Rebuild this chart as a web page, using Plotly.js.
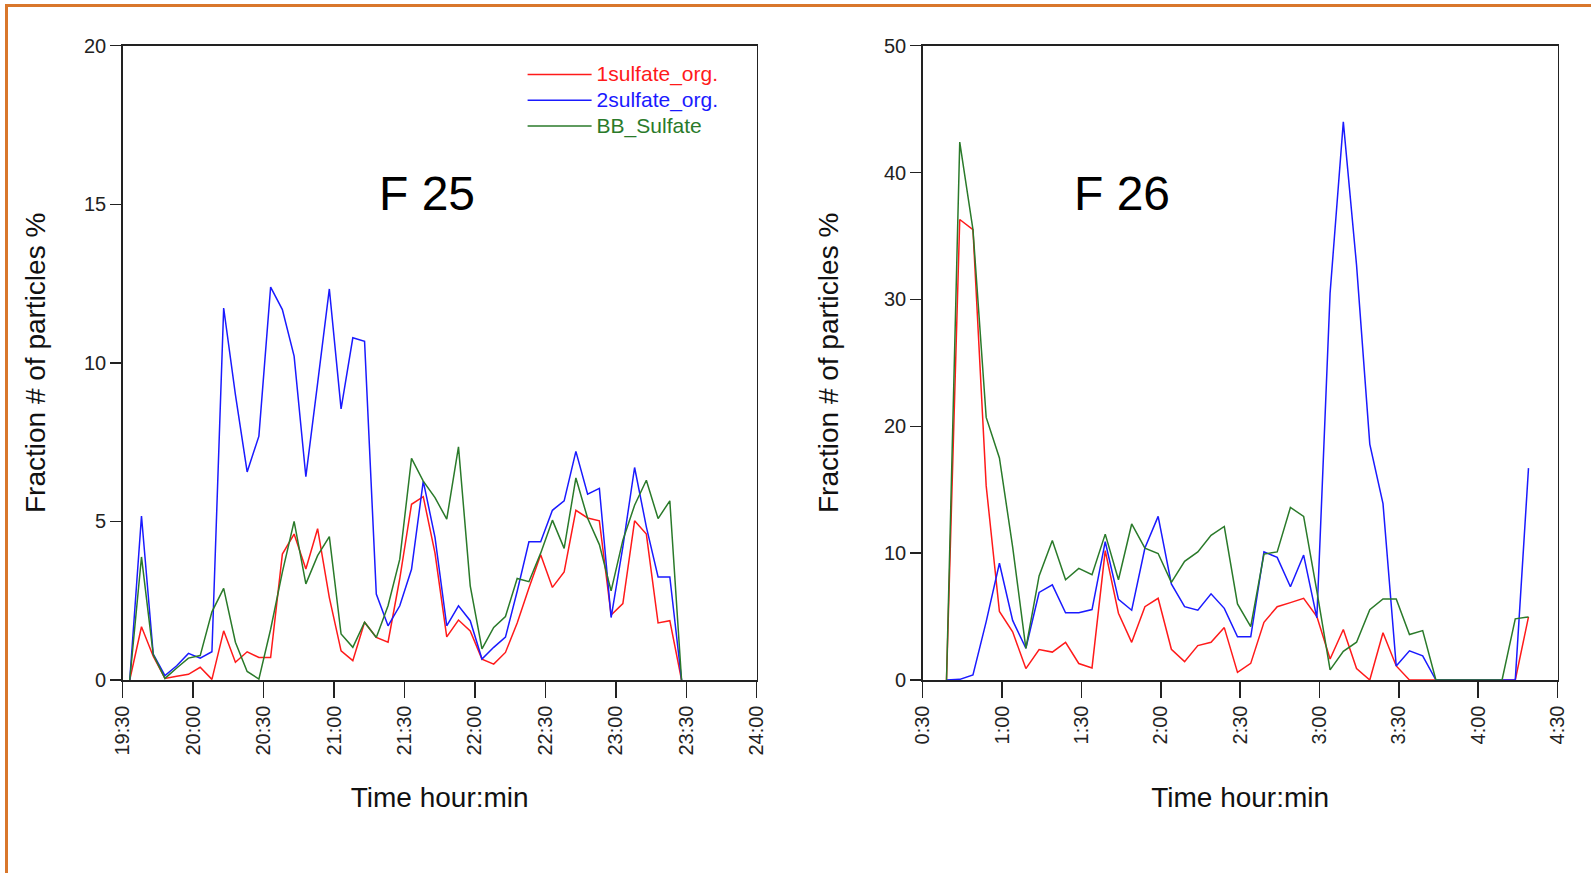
<!DOCTYPE html>
<html>
<head>
<meta charset="utf-8">
<script src="https://cdn.plot.ly/plotly-3.0.1.min.js"></script>
<style>
  html, body { margin: 0; padding: 0; background: #ffffff; }
  #chart { width: 1591px; height: 873px; }
</style>
</head>
<body>
<div id="chart"></div>
<script>
// ---------- DATA ----------
const seriesNames = ["1sulfate_org.", "2sulfate_org.", "BB_Sulfate"];
const panelLabels = ["F 25", "F 26"];

// F 25 (evening) sample times
const timesF25 = ["19:33","19:38","19:43","19:48","19:53","19:58","20:03","20:08","20:13","20:18",
  "20:23","20:28","20:33","20:38","20:43","20:48","20:53","20:58","21:03","21:08",
  "21:13","21:18","21:23","21:28","21:33","21:38","21:43","21:48","21:53","21:58",
  "22:03","22:08","22:13","22:18","22:23","22:28","22:33","22:38","22:43","22:48",
  "22:53","22:58","23:03","23:08","23:13","23:18","23:23","23:28"];
const sulfate1F25 = [0,1.68,0.75,0.05,0.12,0.18,0.4,0.02,1.55,0.56,
  0.89,0.71,0.71,3.97,4.6,3.5,4.77,2.6,0.92,0.61,
  1.82,1.34,1.19,3.2,5.54,5.78,4.0,1.36,1.89,1.55,
  0.66,0.5,0.87,1.8,2.9,3.95,2.92,3.41,5.35,5.11,
  5.02,2.05,2.41,5.02,4.6,1.8,1.87,0];
const sulfate2F25 = [0,5.17,0.82,0.14,0.45,0.84,0.69,0.89,11.73,9.0,
  6.56,7.69,12.39,11.68,10.21,6.41,9.35,12.33,8.55,10.79,
  10.68,2.71,1.71,2.34,3.49,6.27,4.5,1.71,2.34,1.87,
  0.66,1.03,1.35,2.8,4.36,4.36,5.35,5.65,7.21,5.86,
  6.04,1.97,4.2,6.7,4.83,3.25,3.25,0];
const bbSulfateF25 = [0,3.88,0.8,0.05,0.38,0.69,0.77,2.15,2.89,1.19,
  0.27,0.03,1.6,3.4,5.0,3.03,3.92,4.52,1.45,1.03,
  1.82,1.34,2.34,3.81,6.99,6.27,5.75,5.07,7.35,2.97,
  0.98,1.66,2.0,3.2,3.1,4.0,5.04,4.15,6.37,5.1,
  4.27,2.81,4.41,5.51,6.3,5.09,5.65,0];

// F 26 (after midnight) sample times
const timesF26 = ["0:39","0:44","0:49","0:54","0:59","1:04","1:09","1:14","1:19","1:24",
  "1:29","1:34","1:39","1:44","1:49","1:54","1:59","2:04","2:09","2:14",
  "2:19","2:24","2:29","2:34","2:39","2:44","2:49","2:54","2:59","3:04",
  "3:09","3:14","3:19","3:24","3:29","3:34","3:39","3:44","3:49","3:54",
  "3:59","4:04","4:09","4:14","4:19"];
const sulfate1F26 = [0,36.3,35.5,15.3,5.4,3.8,0.9,2.4,2.2,2.96,
  1.3,0.95,10.2,5.26,2.97,5.78,6.44,2.42,1.45,2.71,
  2.97,4.13,0.6,1.31,4.55,5.78,6.1,6.44,5.0,1.66,
  3.98,0.9,0,3.73,1.11,0,0,0,0,0,
  0,0,0,0,4.97];
const sulfate2F26 = [0,0.05,0.4,4.6,9.2,4.7,2.5,6.9,7.5,5.3,
  5.3,5.55,10.9,6.36,5.5,10.4,12.9,7.57,5.78,5.5,
  6.79,5.65,3.4,3.4,10.1,9.67,7.35,9.85,4.9,30.5,
  44.0,32.7,18.6,13.9,1.1,2.3,1.9,0,0,0,
  0,0,0,0,16.7];
const bbSulfateF26 = [0,42.4,35.5,20.7,17.5,10.5,2.5,8.2,11.0,7.9,
  8.8,8.3,11.5,7.9,12.3,10.4,9.97,7.7,9.35,10.1,
  11.4,12.1,6.0,4.2,9.93,10.1,13.6,12.9,7.0,0.8,
  2.26,2.98,5.54,6.39,6.39,3.58,3.89,0,0,0,
  0,0,0,4.82,4.97];

const tickTextF25 = ["19:30","20:00","20:30","21:00","21:30","22:00","22:30","23:00","23:30","24:00"];
const tickTextF26 = ["0:30","1:00","1:30","2:00","2:30","3:00","3:30","4:00","4:30"];

// ---------- STYLE ----------
const colors = ["#ff1a1a", "#1a1aff", "#2a7a2a"];
const FONT = "Liberation Sans, Arial, Helvetica, sans-serif";
const W = 1591, H = 873;

function toMin(s) { const p = s.split(":").map(Number); return p[0] * 60 + p[1]; }

const f25x = timesF25.map(toMin);
const f26x = timesF26.map(toMin);
const f25Series = [sulfate1F25, sulfate2F25, bbSulfateF25];
const f26Series = [sulfate1F26, sulfate2F26, bbSulfateF26];

const traces = [];
f25Series.forEach((ys, i) => {
  traces.push({
    type: "scatter", mode: "lines", x: f25x, y: ys,
    xaxis: "x", yaxis: "y",
    name: '<span style="color:' + colors[i] + ';font-size:21px">' + seriesNames[i] + '</span>',
    legendgroup: seriesNames[i],
    line: { color: colors[i], width: 1.5 },
    showlegend: true
  });
});
f26Series.forEach((ys, i) => {
  traces.push({
    type: "scatter", mode: "lines", x: f26x, y: ys,
    xaxis: "x2", yaxis: "y2",
    name: seriesNames[i],
    legendgroup: seriesNames[i],
    line: { color: colors[i], width: 1.5 },
    showlegend: false
  });
});

function px(x) { return x / W; }
function py(y) { return 1 - y / H; }

const axisCommon = {
  showline: true, linecolor: "#222", linewidth: 1.5, mirror: true,
  showgrid: false, zeroline: false,
  ticks: "outside", tickcolor: "#222", tickwidth: 1.5,
  tickfont: { family: FONT, size: 20, color: "#222" },
  automargin: false, fixedrange: true
};
const titleFont = { family: FONT, size: 28, color: "#111" };

const layout = {
  width: W, height: H,
  margin: { l: 0, r: 0, t: 0, b: 0, pad: 0 },
  paper_bgcolor: "#ffffff", plot_bgcolor: "#ffffff",
  font: { family: FONT, color: "#111" },
  showlegend: true,
  legend: {
    x: px(522.6), y: py(56.5), xanchor: "left", yanchor: "top",
    bgcolor: "rgba(0,0,0,0)", borderwidth: 0,
    font: { family: FONT, size: 17.5 },
    itemwidth: 64, tracegroupgap: 0
  },
  xaxis: Object.assign({}, axisCommon, {
    domain: [px(122.7), px(756.7)], anchor: "y",
    range: [toMin("19:30"), toMin("24:00")],
    tickmode: "array", tickvals: tickTextF25.map(toMin), ticktext: tickTextF25,
    tickangle: -90, ticklen: 16,
    title: { text: "Time hour:min", font: titleFont, standoff: 33 }
  }),
  yaxis: Object.assign({}, axisCommon, {
    domain: [py(680), py(45.7)], anchor: "x",
    range: [0, 20], tickmode: "linear", tick0: 0, dtick: 5, ticklen: 11,
    title: { text: "Fraction # of particles %", font: titleFont, standoff: 30 }
  }),
  xaxis2: Object.assign({}, axisCommon, {
    domain: [px(922.7), px(1557.6)], anchor: "y2",
    range: [toMin("0:30"), toMin("4:30")],
    tickmode: "array", tickvals: tickTextF26.map(toMin), ticktext: tickTextF26,
    tickangle: -90, ticklen: 16,
    title: { text: "Time hour:min", font: titleFont, standoff: 44 }
  }),
  yaxis2: Object.assign({}, axisCommon, {
    domain: [py(680), py(45.7)], anchor: "x2",
    range: [0, 50], tickmode: "linear", tick0: 0, dtick: 10, ticklen: 11,
    title: { text: "Fraction # of particles %", font: titleFont, standoff: 37 }
  }),
  annotations: [
    { text: panelLabels[0], xref: "paper", yref: "paper", x: px(427), y: py(193),
      xanchor: "center", yanchor: "middle", showarrow: false,
      font: { family: FONT, size: 48, color: "#000" } },
    { text: panelLabels[1], xref: "paper", yref: "paper", x: px(1122), y: py(193),
      xanchor: "center", yanchor: "middle", showarrow: false,
      font: { family: FONT, size: 48, color: "#000" } }
  ],
  shapes: [
    { type: "line", xref: "paper", yref: "paper", x0: px(6.5), x1: px(6.5), y0: 0, y1: py(5.5),
      line: { color: "#D9772B", width: 3 }, layer: "below" },
    { type: "line", xref: "paper", yref: "paper", x0: px(5), x1: 1, y0: py(5.5), y1: py(5.5),
      line: { color: "#D9772B", width: 3 }, layer: "below" }
  ]
};

Plotly.newPlot("chart", traces, layout, { displayModeBar: false, staticPlot: true });
</script>
</body>
</html>
